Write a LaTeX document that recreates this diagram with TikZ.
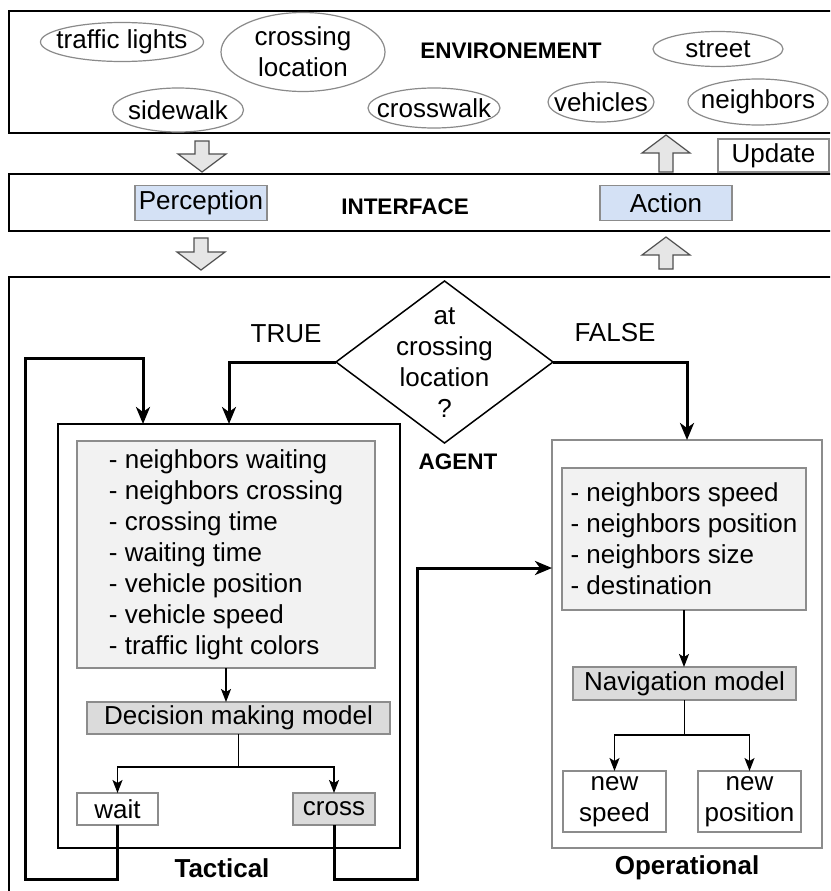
\documentclass[tikz,border=0pt]{standalone}
\usepackage{fontspec}
\setmainfont{Liberation Sans}
\usetikzlibrary{shapes.geometric,arrows.meta}
\definecolor{ellgray}{HTML}{8A8A8A}
\definecolor{bordgray}{HTML}{8C8C8C}
\definecolor{listfill}{HTML}{F2F2F2}
\definecolor{modfill}{HTML}{DBDBDB}
\definecolor{bluefill}{HTML}{D4E1F5}
\definecolor{arrfill}{HTML}{E6E6E6}
\definecolor{arrdraw}{HTML}{505050}
\begin{document}
\begin{tikzpicture}[x=1pt,y=-1pt,
  every node/.style={font=\fontsize{26}{31}\selectfont, inner sep=0pt, outer sep=0pt},
  outerbox/.style={draw=black, line width=2pt, anchor=north west},
  ell/.style={ellipse, draw=ellgray, line width=1.2pt},
  hdr/.style={font=\fontsize{22.5}{27}\selectfont\bfseries},
  lbl/.style={font=\fontsize{26}{31}\selectfont\bfseries},
  bluebox/.style={draw=bordgray, fill=bluefill, line width=1.2pt},
  listbox/.style={draw=bordgray, fill=listfill, line width=1.2pt, align=left},
  modbox/.style={draw=bordgray, fill=modfill, line width=1.2pt},
  whitebox/.style={draw=bordgray, fill=white, line width=1.2pt, align=center},
  thickline/.style={line width=3pt, line join=miter},
  thickarr/.style={thickline, -{Stealth[length=17pt,width=14pt,inset=5pt]}},
  thinline/.style={line width=1.5pt},
  thinarr/.style={thinline, -{Stealth[length=13pt,width=10pt,inset=3pt]}},
  blockarr/.style={draw=arrdraw, fill=arrfill, line width=1.2pt, line join=miter},
  downarr/.pic={\path[blockarr] (-7,0) -- (7,0) -- (7,#1-18) -- (24,#1-18) -- (0,#1) -- (-24,#1-18) -- (-7,#1-18) -- cycle;},
  uparr/.pic={\path[blockarr] (0,0) -- (24,18) -- (7,18) -- (7,#1) -- (-7,#1) -- (-7,18) -- (-24,18) -- cycle;}
]
\useasboundingbox (0,0) rectangle (830,891);
\clip (0,0) rectangle (830,891);
\fill[white] (0,0) rectangle (830,891);

% ---------- ENVIRONMENT ----------
\node[outerbox, minimum width=835pt, minimum height=122pt] (env) at (9,11) {};
\node[ell, minimum width=163pt, minimum height=39pt] (tl) at (122,42) {};
\node (tlt) at (tl.center) {traffic lights};
\node[ell, minimum width=164pt, minimum height=79pt] (cl) at (303,52) {};
\node[align=center] (clt) at (cl.center) {crossing\\location};
\node[hdr] (envt) at (511,51) {ENVIRONEMENT};
\node[ell, minimum width=130pt, minimum height=35pt] (st) at (718,49) {};
\node (stt) at (st.center) {street};
\node[ell, minimum width=131pt, minimum height=44pt] (sw) at (178,110) {};
\node (swt) at (sw.center) {sidewalk};
\node[ell, minimum width=132pt, minimum height=40pt] (cw) at (434,108) {};
\node (cwt) at (cw.center) {crosswalk};
\node[ell, minimum width=106pt, minimum height=40pt] (vh) at (601,102) {};
\node (vht) at (vh.center) {vehicles};
\node[ell, minimum width=140pt, minimum height=46pt] (nb) at (758,102) {};
\node (nbt) at (nb.center) {neighbors};

% ---------- block arrows + update ----------
\pic at (202,141) {downarr=31};
\pic at (666,135) {uparr=37};
\node[whitebox, minimum width=111pt, minimum height=33pt] (upd) at (773.5,155.5) {Update};

% ---------- INTERFACE ----------
\node[outerbox, minimum width=835pt, minimum height=57pt] (itf) at (9,174) {};
\node[bluebox, minimum width=132pt, minimum height=35pt] (perc) at (201,203) {Perception};
\node[hdr] (itft) at (405,207) {INTERFACE};
\node[bluebox, minimum width=132pt, minimum height=35pt] (act) at (666,203) {Action};

\pic at (201,238) {downarr=32};
\pic at (666,237) {uparr=32};

% ---------- AGENT ----------
\node[outerbox, minimum width=835pt, minimum height=640pt] (agent) at (9,277) {};
\node[diamond, draw=black, line width=1.5pt, minimum width=217pt, minimum height=162pt] (dec) at (444.5,362) {};
\node[align=center] (dect) at (444.5,362.5) {at\\crossing\\location\\?};
\node (truel) at (286,334) {TRUE};
\node (falsel) at (615,333) {FALSE};
\node[hdr] (agt) at (458,462) {AGENT};

% Tactical
\node[draw=black, line width=1.5pt, minimum width=342pt, minimum height=424pt] (tact) at (229,636) {};
\node[listbox, minimum width=298pt, minimum height=227pt] (tlist) at (226,554.5)
  {- neighbors waiting\\- neighbors crossing\\- crossing time\\- waiting time\\- vehicle position\\- vehicle speed\\- traffic light colors};
\node[modbox, minimum width=303pt, minimum height=32pt] (dm) at (238.5,718) {Decision making model};
\node[whitebox, minimum width=81pt, minimum height=32pt] (wait) at (117.5,809) {wait};
\node[modbox, minimum width=82pt, minimum height=32pt] (cross) at (334,809) {cross};
\node[lbl] (tactl) at (222,868) {Tactical};

% Operational
\node[draw=bordgray, line width=1.5pt, minimum width=270pt, minimum height=408pt] (op) at (687,644) {};
\node[listbox, minimum width=244pt, minimum height=142pt] (olist) at (684,539)
  {- neighbors speed\\- neighbors position\\- neighbors size\\- destination};
\node[modbox, minimum width=223pt, minimum height=33pt] (nav) at (684.5,683.5) {Navigation model};
\node[whitebox, minimum width=103pt, minimum height=61pt] (nsp) at (614.5,801.5) {new\\speed};
\node[whitebox, minimum width=103pt, minimum height=61pt] (npo) at (749.5,801.5) {new\\position};
\node[lbl] (opl) at (687,868) {Operational};

% ---------- connectors ----------
\coordinate (inA) at (143,424);
\coordinate (inB) at (229,424);
\coordinate (lb) at (25,879);
\coordinate (lt) at (25,358);
\coordinate (rb) at (417,879);
\coordinate (rt) at (417,568);

\draw[thickarr] (dec.west) -| (inB);
\draw[thickarr] (dec.east) -| (op.north);
\draw[thickarr] (wait.south) |- (lb) -- (lt) -| (inA);
\draw[thickarr] (cross.south) |- (rb) -- (rt) -- (rt -| op.west);

\draw[thinarr] (tlist.south) -- (tlist.south |- dm.north);
\draw[thinline] (dm.south) -- ++(0,33) coordinate (dmj);
\draw[thinarr] (dmj) -| (wait.north);
\draw[thinarr] (dmj) -| (cross.north);

\draw[thinarr] (olist.south) -- (olist.south |- nav.north);
\draw[thinline] (nav.south) -- ++(0,35) coordinate (navj);
\draw[thinarr] (navj) -| (nsp.north);
\draw[thinarr] (navj) -| (npo.north);
\end{tikzpicture}
\end{document}
